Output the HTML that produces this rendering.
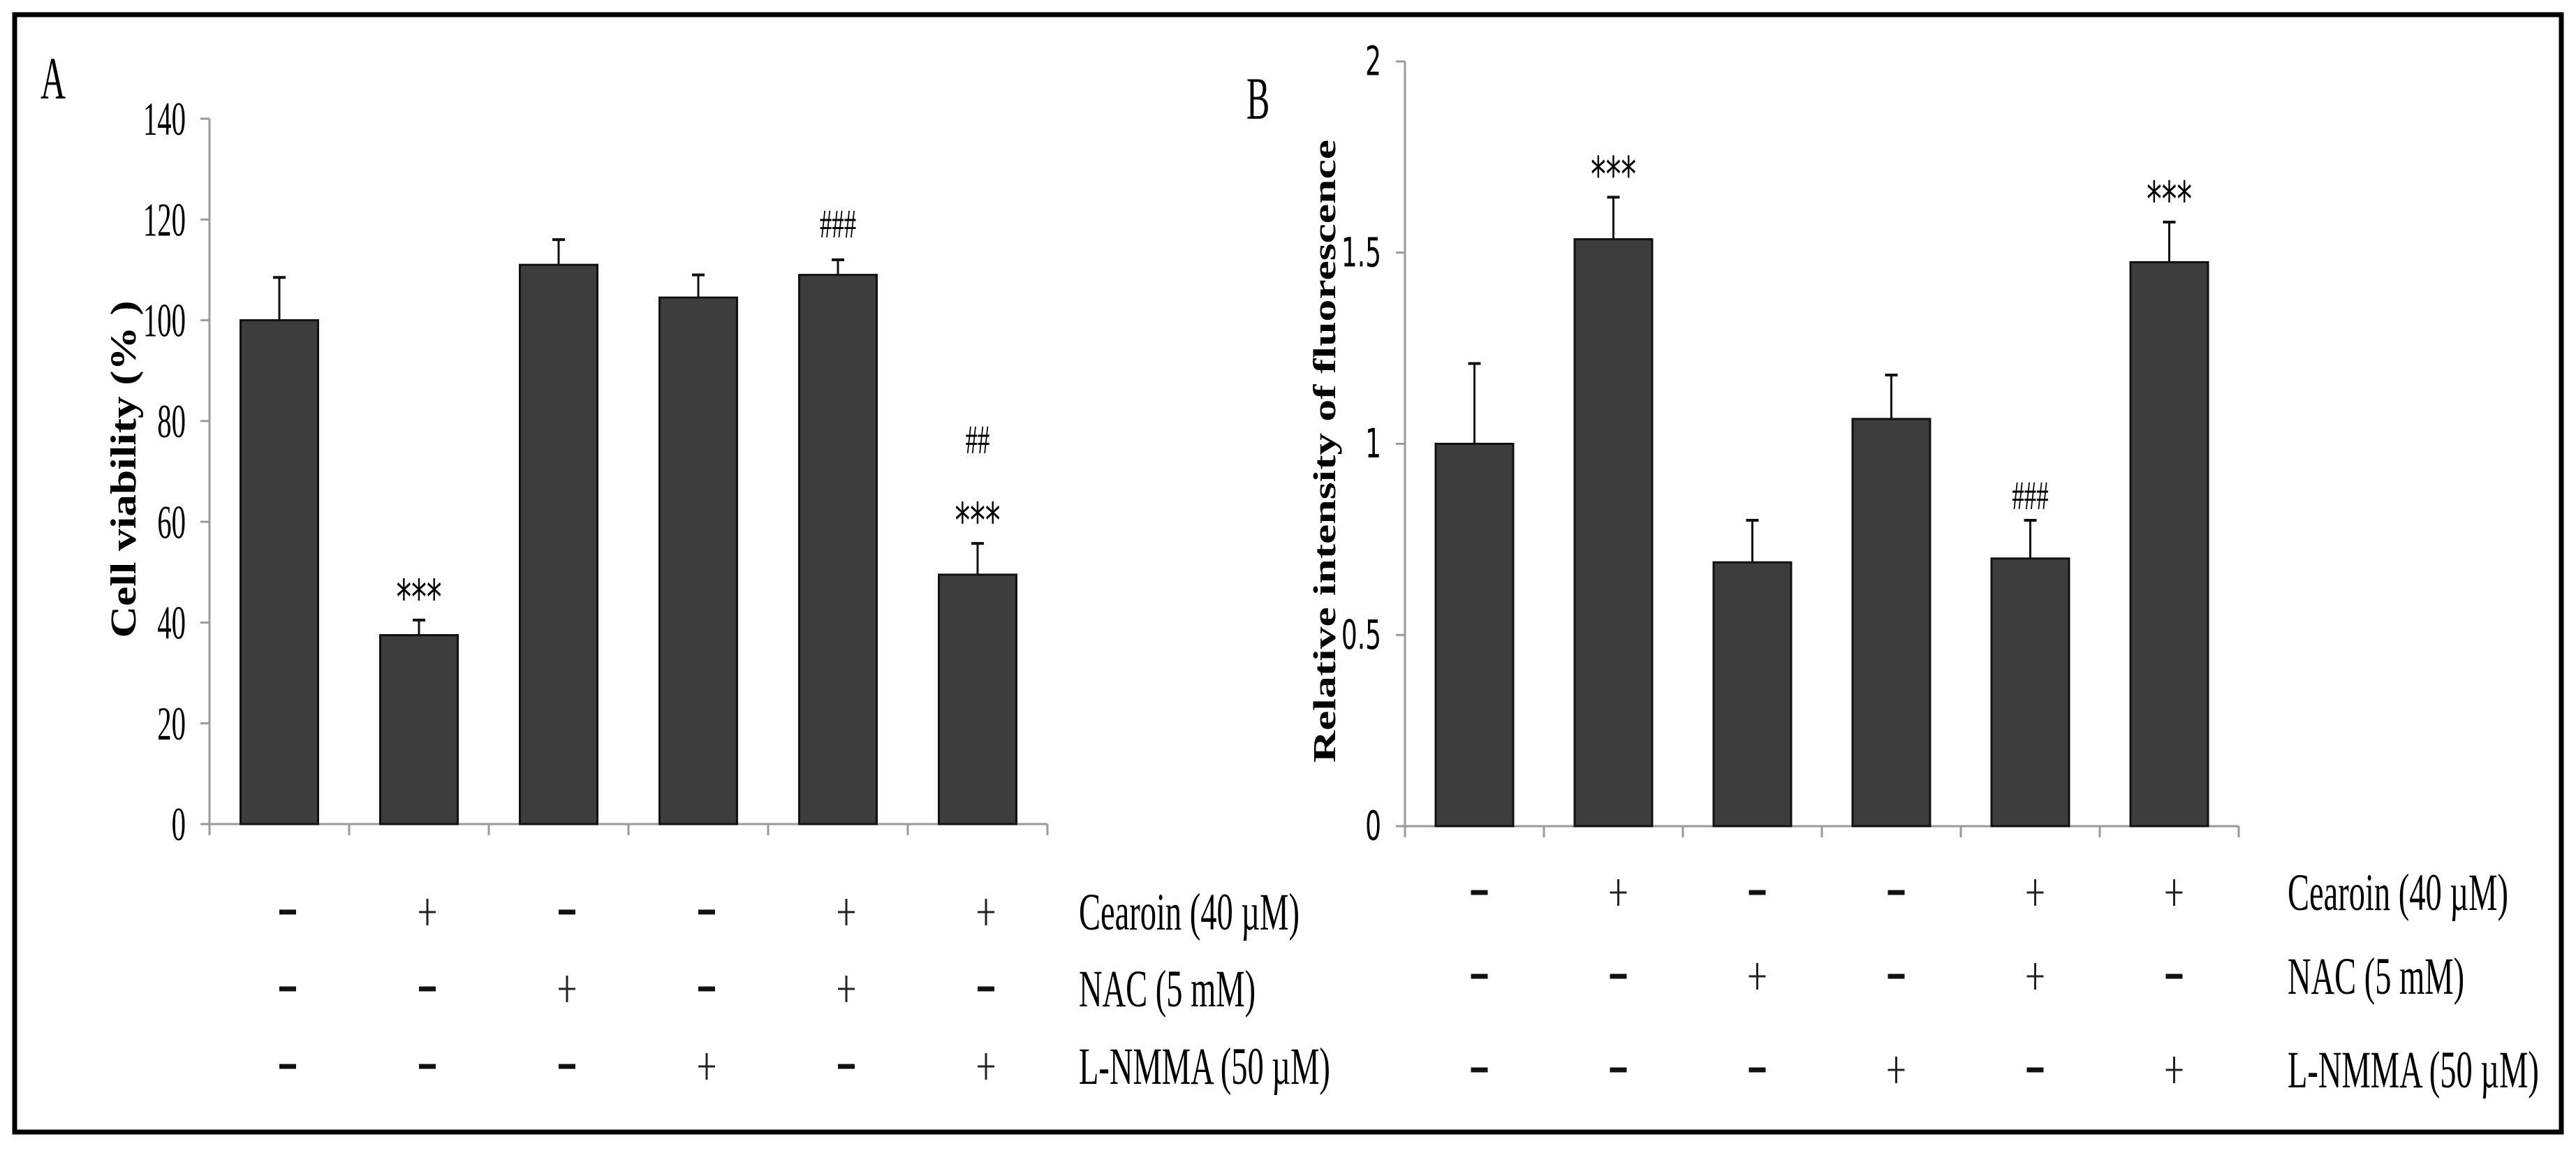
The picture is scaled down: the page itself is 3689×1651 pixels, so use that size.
<!DOCTYPE html>
<html><head><meta charset="utf-8"><style>
html,body{margin:0;padding:0;background:#fff;}
svg{display:block;}
</style></head><body>
<svg id="fig" width="3689" height="1651" viewBox="0 0 3689 1651" xmlns="http://www.w3.org/2000/svg">
<rect x="21" y="21" width="3647" height="1600" fill="none" stroke="#000" stroke-width="7"/>
</svg>
<script>
// ---------- data ----------
const categories = ["Control","Cearoin","NAC","L-NMMA","Cearoin+NAC","Cearoin+L-NMMA"];
const viabilityValues = [100, 37.5, 111, 104.5, 109, 49.5];
const viabilityErrors = [8.5, 3, 5, 4.5, 3, 6.2];
const viabilityTicks = [0,20,40,60,80,100,120,140];
const viabilityAnnot = ["", "***", "", "", "###", "***"];
const viabilityAnnot2 = ["", "", "", "", "", "##"];
const fluorValues = [1.0, 1.535, 0.69, 1.065, 0.70, 1.475];
const fluorErrors = [0.21, 0.11, 0.11, 0.115, 0.10, 0.105];
const fluorTicks = [0, 0.5, 1, 1.5, 2];
const fluorTickLabels = ["0","0.5","1","1.5","2"];
const fluorAnnot = ["", "***", "", "", "###", "***"];
const cearoinRow = ["-","+","-","-","+","+"];
const nacRow = ["-","-","+","-","+","-"];
const lnmmaRow = ["-","-","-","+","-","+"];
const rowLabels = ["Cearoin (40 \u00b5M)","NAC (5 mM)","L-NMMA (50 \u00b5M)"];

const NS = "http://www.w3.org/2000/svg";
const svg = document.getElementById("fig");
function mk(tag, attrs, parent){
  const e = document.createElementNS(NS, tag);
  for (const k in attrs) e.setAttribute(k, attrs[k]);
  (parent||svg).appendChild(e);
  return e;
}
function txt(x, y, s, size, o){
  o = o || {};
  const g = mk("g", {transform:"translate("+x+","+y+") scale("+(o.sx||0.6)+",1)"});
  const t = mk("text", {x:0, y:0, "font-size":size, "text-anchor":o.anchor||"start",
    "font-family":o.family||"'Liberation Serif', serif", fill:"#000",
    "font-weight":o.bold?"bold":"normal"}, g);
  t.textContent = s;
  return t;
}
function signMark(cx, cy, s){
  const g = mk("g", {});
  if (s === "+") {
    mk("line",{x1:cx-12,y1:cy,x2:cx+12,y2:cy,stroke:"#222","stroke-width":3},g);
    mk("line",{x1:cx,y1:cy-19,x2:cx,y2:cy+19,stroke:"#222","stroke-width":3},g);
  } else {
    mk("rect",{x:cx-12,y:cy-3.5,width:24,height:7,fill:"#111"},g);
  }
  return g;
}

function drawChart(cfg){
  const yScale = v => cfg.y0 - (v - cfg.vmin) / (cfg.vmax - cfg.vmin) * (cfg.y0 - cfg.yTop);
  const xCenter = i => cfg.x0 + (i + 0.5) * cfg.step;
  const xEnd = cfg.x0 + categories.length * cfg.step;
  const ya = mk("line",{x1:cfg.x0,y1:cfg.yTop,x2:cfg.x0,y2:cfg.y0,stroke:"#9a9a9a","stroke-width":3});
  
  
  cfg.ticks.forEach((t,i)=>{
    const y = yScale(t);
    const tk = mk("line",{x1:cfg.x0-13,y1:y,x2:cfg.x0,y2:y,stroke:"#9a9a9a","stroke-width":3});
    
    
    const lb = txt(cfg.x0-34, y+cfg.tickSize*0.34, cfg.tickLabels[i], cfg.tickSize, {anchor:"end", family:cfg.tickFamily, sx:cfg.tickSx});
    
    
  });
  const xa = mk("line",{x1:cfg.x0,y1:cfg.y0,x2:xEnd,y2:cfg.y0,stroke:"#9a9a9a","stroke-width":3});
  
  
  for (let i=0;i<=categories.length;i++){
    const x = cfg.x0 + i*cfg.step;
    const tk = mk("line",{x1:x,y1:cfg.y0,x2:x,y2:cfg.y0+16,stroke:"#9a9a9a","stroke-width":3});
    
    
  }
  cfg.values.forEach((v,i)=>{
    const cx = xCenter(i), top = yScale(v);
    const etop = yScale(v + cfg.errors[i]);
    const el = mk("line",{x1:cx,y1:etop,x2:cx,y2:top,stroke:"#111","stroke-width":3});
    
    
    const ec = mk("line",{x1:cx-9,y1:etop,x2:cx+9,y2:etop,stroke:"#111","stroke-width":4});
    
    
    const r = mk("rect",{x:cx-cfg.barW/2,y:top,width:cfg.barW,height:cfg.y0-top,fill:"#3d3d3d",stroke:"#111","stroke-width":3});
    
    
    const a = cfg.annot[i];
    if (a) {
      const isStar = a[0]==="*";
      const fs = isStar ? 70 : 58;
      const t = txt(cx, isStar ? etop - 8 : etop - cfg.hashGap, a, fs,
        {anchor:"middle", family: isStar ? "'DejaVu Sans', sans-serif" : "'Liberation Serif', serif", sx: isStar?0.62:0.6});
      
      
    }
    if (cfg.annot2 && cfg.annot2[i]) {
      const t = txt(cx, etop - 129, cfg.annot2[i], 58, {anchor:"middle", sx:0.6});
      
      
    }
  });
  const g = mk("g",{transform:"translate("+cfg.titleX+","+cfg.titleY+") rotate(-90)"});
  const tt = mk("text",{x:0,y:0,"text-anchor":"middle","font-size":cfg.titleSize,"font-weight":"bold",
    "font-family":"'Liberation Serif', serif",textLength:cfg.titleLen,lengthAdjust:"spacingAndGlyphs"},g);
  tt.textContent = cfg.title;
  
  
  [cearoinRow, nacRow, lnmmaRow].forEach((row, r)=>{
    row.forEach((s,i)=>{
      const m = signMark(xCenter(i) + cfg.signDx, cfg.rowY[r], s);
      
      
    });
    const l = txt(cfg.labelX, cfg.rowY[r] + 25, rowLabels[r], 75, {sx:0.62});
    
    
  });
  const p = txt(cfg.letterX, cfg.letterY, cfg.letter, 86, {sx:0.58});
  
  
}

drawChart({id:"panel-a", x0:300, step:200, y0:1180, yTop:170, vmin:0, vmax:140,
  values:viabilityValues, errors:viabilityErrors, ticks:viabilityTicks,
  tickLabels:viabilityTicks.map(String), tickSize:68, tickSx:0.6, tickFamily:"'Liberation Serif', serif",
  annot:viabilityAnnot, annot2:viabilityAnnot2, barW:111, hashGap:32,
  title:"Cell viability (% )", titleX:194, titleY:672, titleLen:483, titleSize:52,
  rowY:[1306,1416,1527], labelX:1545, signDx:12, letter:"A", letterX:58, letterY:141});

drawChart({id:"panel-b", x0:2012, step:199, y0:1183, yTop:88, vmin:0, vmax:2,
  values:fluorValues, errors:fluorErrors, ticks:fluorTicks,
  tickLabels:fluorTickLabels, tickSize:58, tickSx:0.62, tickFamily:"'DejaVu Sans', sans-serif",
  annot:fluorAnnot, annot2:null, barW:111, hashGap:16,
  title:"Relative intensity of fluorescence", titleX:1912, titleY:646, titleLen:892, titleSize:46,
  rowY:[1278,1398,1532], labelX:3276, signDx:7, letter:"B", letterX:1785, letterY:170});
</script>
</body></html>
